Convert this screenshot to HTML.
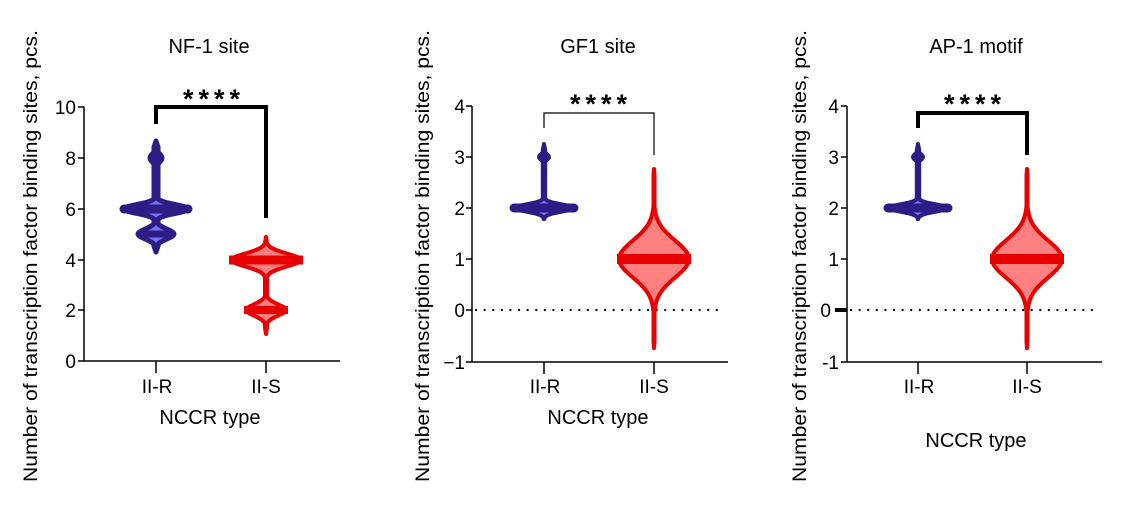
<!DOCTYPE html>
<html><head><meta charset="utf-8"><style>
body{margin:0;background:#fff}
svg{display:block;font-family:"Liberation Sans",Arial,sans-serif}
</style></head><body>
<svg id="s" width="1143" height="512" viewBox="0 0 1143 512" xmlns="http://www.w3.org/2000/svg">
<g font-size="20" fill="#000" text-anchor="middle">
<text x="209" y="53">NF-1 site</text>
<text x="598" y="53">GF1 site</text>
<text x="976" y="53">AP-1 motif</text>
<text x="210" y="424">NCCR type</text>
<text x="598" y="424">NCCR type</text>
<text x="976" y="447">NCCR type</text>
<text transform="translate(37,256) rotate(-90)" textLength="452" lengthAdjust="spacingAndGlyphs" font-size="19">Number of transcription factor binding sites, pcs.</text>
<text transform="translate(429,256) rotate(-90)" textLength="452" lengthAdjust="spacingAndGlyphs" font-size="19">Number of transcription factor binding sites, pcs.</text>
<text transform="translate(806,256) rotate(-90)" textLength="452" lengthAdjust="spacingAndGlyphs" font-size="19">Number of transcription factor binding sites, pcs.</text>
</g>
<g font-size="19" text-anchor="end" fill="#000">
<text x="76" y="114">10</text><text x="76" y="165">8</text><text x="76" y="216">6</text><text x="76" y="267">4</text><text x="76" y="317">2</text><text x="76" y="368">0</text>
<text x="465" y="113">4</text><text x="465" y="164">3</text><text x="465" y="215">2</text><text x="465" y="266">1</text><text x="465" y="317">0</text><text x="465" y="369">−1</text>
<text x="839" y="113">4</text><text x="839" y="164">3</text><text x="839" y="215">2</text><text x="839" y="266">1</text><text x="831" y="317">0</text><text x="839" y="369">-1</text>
</g>
<g font-size="19" text-anchor="middle">
<text x="157" y="393">II-R</text><text x="266" y="393">II-S</text>
<text x="545" y="393">II-R</text><text x="654" y="393">II-S</text>
<text x="919" y="393">II-R</text><text x="1027" y="393">II-S</text>
</g>
<g font-size="27" font-weight="bold">
<text x="183" y="108" textLength="57" lengthAdjust="spacing">****</text><text x="570" y="113" textLength="57" lengthAdjust="spacing">****</text><text x="944" y="113" textLength="57" lengthAdjust="spacing">****</text>
</g>
<g stroke="#000" stroke-width="1.5" fill="none">
<path d="M84 107V361H340M78 107H84M78 158H84M78 209H84M78 260H84M78 310H84M78 361H84M156 361V373M266 361V373"/>
<path d="M472 106V362H728M466 106H472M466 157H472M466 208H472M466 259H472M466 310H472M466 362H472M544 362V374M654 362V374"/>
<path d="M847 106V362H1102M841 106H847M841 157H847M841 208H847M841 259H847M841 362H847M918 362V374M1027 362V374"/>
</g>
<path d="M835 310H847" stroke="#000" stroke-width="4"/>
<g stroke="#000" stroke-width="2.2" stroke-dasharray="0.1 8.5" stroke-linecap="round">
<path d="M476 310H722"/><path d="M851 310H1097"/>
</g>
<path d="M156 124V107H266V218" stroke="#000" stroke-width="4" fill="none"/>
<path d="M544 128V113H654V155" stroke="#000" stroke-width="1.2" fill="none"/>
<path d="M918 128V113H1027V155" stroke="#000" stroke-width="4" fill="none"/>
<g id="v"></g>
</svg>
<script>
function vpath(cx,top,bot,peaks,neck){
 var r=[],l=[];
 for(var y=top;y<=bot;y+=1){
  var w=0;peaks.forEach(function(p){w+=p[1]*Math.exp(-Math.pow((y-p[0])/p[2],2));});
  var t=Math.min(y-top,bot-y);var nk=neck*Math.min(1,t/6);
  w=Math.max(w,nk);
  r.push((cx+w).toFixed(1)+' '+y);l.unshift((cx-w).toFixed(1)+' '+y);
 }
 return 'M'+r.join('L')+'L'+l.join('L')+'Z';
}
var g=document.getElementById('v'),h='';
function add(d,fill,stroke,sw){h+='<path d="'+d+'" fill="'+fill+'" stroke="'+stroke+'" stroke-width="'+sw+'" stroke-linejoin="round"/>';}
var B='#2e1c86',BF='#7474f2',R='#e80000',RF='#ff8080';
add(vpath(156,141,252,[[158,6,6],[209,33,6],[234,18,7]],2),BF,B,5);
h+='<path d="M124 209H188" stroke="'+B+'" stroke-width="9" stroke-linecap="round"/>';
h+='<path d="M140 234H172" stroke="'+B+'" stroke-width="7" stroke-linecap="round"/>';
h+='<circle cx="156" cy="158" r="6" fill="'+B+'"/>';
add(vpath(266,237,334,[[260,35,9],[310,20,8]],1),RF,R,4);
h+='<path d="M229 260H303" stroke="'+R+'" stroke-width="9"/>';
h+='<path d="M244 310H288" stroke="'+R+'" stroke-width="8"/>';
[[544,654],[918,1027]].forEach(function(c){
 add(vpath(c[0],144,219,[[208,30,5],[157,5,4]],1.2),BF,B,4);
 h+='<path d="M'+(c[0]-30)+' 208H'+(c[0]+30)+'" stroke="'+B+'" stroke-width="9" stroke-linecap="round"/>';
 h+='<circle cx="'+c[0]+'" cy="157" r="6" fill="'+B+'"/>';
 add(vpath(c[1],169,348,[[259,35,26]],0.5),RF,R,4);
 h+='<path d="M'+(c[1]-37)+' 259H'+(c[1]+37)+'" stroke="'+R+'" stroke-width="10"/>';
});
g.innerHTML=h;
</script>
</body></html>
